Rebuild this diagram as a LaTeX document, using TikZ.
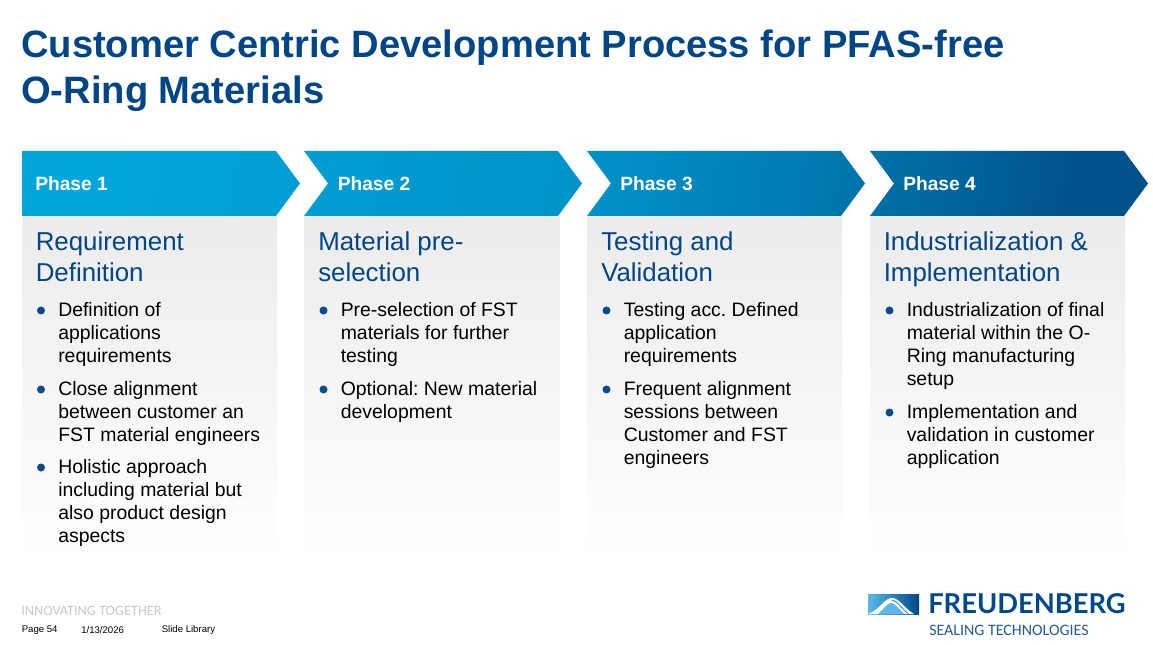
\documentclass[tikz,border=0pt]{standalone}
\usepackage{fontspec}
\setmainfont{Liberation Sans}
\newfontfamily\carlitofont{Carlito}
\newfontfamily\latofont{Lato}
\frenchspacing
\definecolor{ttblue}{RGB}{0,70,135}
\definecolor{bulletblue}{RGB}{10,75,140}
\definecolor{panelgray}{RGB}{236,236,237}
\definecolor{footgray}{RGB}{200,200,200}
\definecolor{logoblue}{RGB}{0,72,138}
\definecolor{logosub}{RGB}{35,90,150}
\definecolor{logolight}{RGB}{90,185,230}
\definecolor{logomid}{RGB}{20,125,190}
\pgfdeclarehorizontalshading{phasearrows}{100bp}{
  rgb(0bp)=(0,0.651,0.859);
  rgb(25bp)=(0,0.651,0.859);
  rgb(37.5bp)=(0,0.612,0.824);
  rgb(50bp)=(0,0.573,0.784);
  rgb(61.5bp)=(0,0.478,0.698);
  rgb(75bp)=(0,0.322,0.541);
  rgb(100bp)=(0,0.322,0.541)}
\tikzset{
  titletext/.style={anchor=north west,inner sep=0pt,align=left,text=ttblue,font=\fontsize{28.6}{34.5}\selectfont\bfseries},
  phasetext/.style={anchor=west,inner sep=0pt,text=white,font=\fontsize{14.4}{17}\selectfont\bfseries},
  headtext/.style={anchor=north west,inner sep=0pt,align=left,text=ttblue,font=\fontsize{19.4}{23.25}\selectfont},
  itemtext/.style={anchor=north west,inner sep=0pt,align=left,text=black,font=\fontsize{14.57}{17.25}\selectfont},
  foottext/.style={anchor=west,inner sep=0pt,text=black,font=\fontsize{7.2}{8.6}\selectfont},
  panel/.style={top color=panelgray,bottom color=white,draw=none},
  dot/.style={fill=bulletblue}
}
\begin{document}
\begin{tikzpicture}[line cap=round,line join=round,x=0.75pt,y=-0.75pt]
\useasboundingbox (0,0) rectangle (1153,645);
% title
\node[titletext] (title) at (21,30) {Customer Centric Development Process for PFAS-free\\O-Ring Materials};
% panels
\shade[panel] (22,217) rectangle (277,562);
\shade[panel] (304.5,217) rectangle (559.5,562);
\shade[panel] (587,217) rectangle (842,562);
\shade[panel] (870,217) rectangle (1125,562);
% the four arrows share one gradient
\shade[shading=phasearrows,shading angle=-10]
  (22,151)-- (276,151)-- (300,183.5)-- (276,216)-- (22,216)-- cycle
  (304,151)-- (558,151)-- (582,183.5)-- (558,216)-- (304,216)-- (328,183.5)-- cycle
  (587,151)-- (841,151)-- (865,183.5)-- (841,216)-- (587,216)-- (611,183.5)-- cycle
  (870,151)-- (1124,151)-- (1148,183.5)-- (1124,216)-- (870,216)-- (894,183.5)-- cycle;
\node[phasetext] (phaseA) at (35,183.5) {Phase 1};
\node[phasetext] (phaseB) at (337.5,183.5) {Phase 2};
\node[phasetext] (phaseC) at (620,183.5) {Phase 3};
\node[phasetext] (phaseD) at (903,183.5) {Phase 4};
% headings
\node[headtext] (headA) at (35.5,231) {Requirement\\Definition};
\node[headtext] (headB) at (318,231) {Material pre-\\selection};
\node[headtext] (headC) at (601,231) {Testing and\\Validation};
\node[headtext] (headD) at (883.5,231) {Industrialization \&\\Implementation};
% phase 1
\fill[dot] (41,310.5) circle (4);
\node[itemtext] (itemAa) at (58,302) {Definition of\\applications\\requirements};
\fill[dot] (41,389.5) circle (4);
\node[itemtext] (itemAb) at (58,381) {Close alignment\\between customer an\\FST material engineers};
\fill[dot] (41,467.5) circle (4);
\node[itemtext] (itemAc) at (58,459) {Holistic approach\\including material but\\also product design\\aspects};
% phase 2
\fill[dot] (323.5,310.5) circle (4);
\node[itemtext] (itemBa) at (340.5,302) {Pre-selection of FST\\materials for further\\testing};
\fill[dot] (323.5,389.5) circle (4);
\node[itemtext] (itemBb) at (340.5,381) {Optional: New material\\development};
% phase 3
\fill[dot] (606.5,310.5) circle (4);
\node[itemtext] (itemCa) at (623.5,302) {Testing acc. Defined\\application\\requirements};
\fill[dot] (606.5,389.5) circle (4);
\node[itemtext] (itemCb) at (623.5,381) {Frequent alignment\\sessions between\\Customer and FST\\engineers};
% phase 4
\fill[dot] (889.5,310.5) circle (4);
\node[itemtext] (itemDa) at (906.5,302) {Industrialization of final\\material within the O-\\Ring manufacturing\\setup};
\fill[dot] (889.5,412.5) circle (4);
\node[itemtext] (itemDb) at (906.5,404) {Implementation and\\validation in customer\\application};
% footer
\node[anchor=west,inner sep=0pt,text=footgray,font=\carlitofont\fontsize{10.7}{12}\selectfont] (slogan) at (21,610.5) {INNOVATING TOGETHER};
\node[foottext] (page) at (21.5,630) {Page 54};
\node[foottext] (date) at (81,630) {1/13/2026};
\node[foottext] (library) at (161.5,630) {Slide Library};
% logo
\shade[left color=logolight,middle color=logomid,right color=logoblue] (868,594) rectangle (919,614);
\fill[white] (868,614) .. controls (880,610) and (884,598) .. (892,598) .. controls (899,598) and (905,609) .. (914,614)-- cycle;
\fill[logolight] (878,614) .. controls (884,609) and (887,603) .. (891,603) .. controls (895,603) and (899,609) .. (904,614)-- cycle;
\draw[logomid,line width=0.6pt] (892,600) .. controls (897,600.5) and (902,609) .. (908,613.5);
\node[anchor=west,inner sep=0pt,text=logoblue,font=\latofont\fontsize{20.5}{24}\selectfont\bfseries] (logoname) at (928,604) {FREUDENBERG};
\node[anchor=west,inner sep=0pt,text=logosub,font=\carlitofont\fontsize{11.95}{14}\selectfont] (logosubname) at (929,630) {SEALING TECHNOLOGIES};
\end{tikzpicture}
\end{document}
